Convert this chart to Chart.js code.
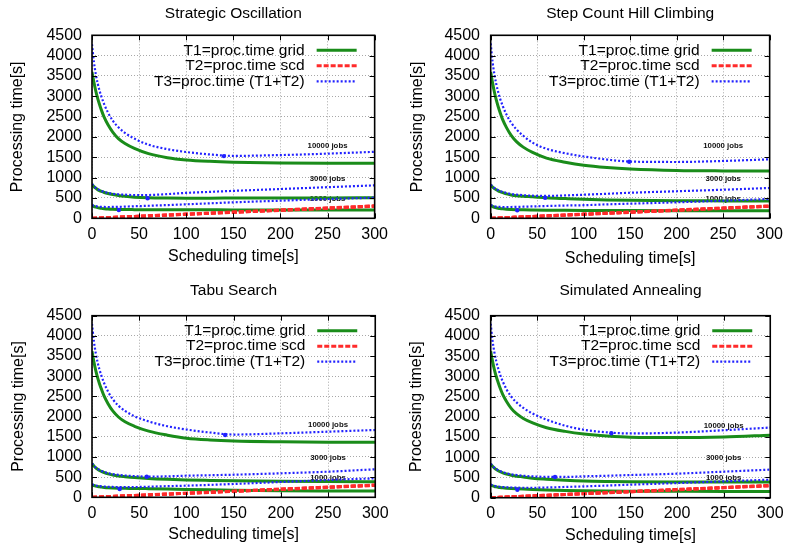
<!DOCTYPE html>
<html>
<head>
<meta charset="utf-8">
<script src="https://cdn.jsdelivr.net/npm/chart.js@4.4.0/dist/chart.umd.min.js"></script>
<style>
  html, body { margin: 0; padding: 0; background: #fff; }
  #wrap { position: relative; width: 790px; height: 551px; overflow: hidden; }
  #wrap canvas { position: absolute; display: block; }
</style>
</head>
<body>
<div id="wrap">
  <canvas id="c-so" width="395" height="275" style="left:0;top:0"></canvas>
  <canvas id="c-schc" width="395" height="275" style="left:395px;top:0"></canvas>
  <canvas id="c-ts" width="395" height="276" style="left:0;top:275px"></canvas>
  <canvas id="c-sa" width="395" height="276" style="left:395px;top:275px"></canvas>
</div>
<script>
// scheduling time [s] sampled along the x axis
var SCHED_TIME = [0, 2, 4, 6, 8, 10, 13, 17, 22, 28, 35, 45, 60, 80, 100, 125, 150, 200, 250, 300];
var X_TICKS = [0, 50, 100, 150, 200, 250, 300];
var Y_TICKS = [0, 500, 1000, 1500, 2000, 2500, 3000, 3500, 4000, 4500];

var JOB_LABELS = ['10000 jobs', '3000 jobs', '1000 jobs'];
var JOB_LABEL_X = [250, 250, 250];
var JOB_LABEL_Y = [1785, 980, 480];

// T2 (scheduler time) is about the same for every algorithm
var T2_10000 = [0, 3, 5, 7, 9, 12, 15, 19, 24, 30, 37, 47, 62, 82, 103, 128, 153, 204, 254, 306];
var T2_3000  = [0, 2, 4, 6, 8, 10, 13, 17, 22, 28, 35, 45, 60, 80, 100, 125, 150, 200, 250, 300];
var T2_1000  = [0, 2, 3, 5, 7, 9, 12, 16, 21, 26, 33, 43, 57, 77, 97, 121, 146, 195, 245, 294];

// Strategic Oscillation
var SO_T1_10000 = [3600, 3350, 3130, 2950, 2800, 2660, 2480, 2300, 2120, 1960, 1840, 1720, 1590, 1490, 1435, 1400, 1380, 1360, 1353, 1352];
var SO_T3_10000 = [4280, 3850, 3550, 3320, 3140, 2990, 2800, 2600, 2400, 2240, 2100, 1960, 1810, 1700, 1630, 1570, 1535, 1555, 1590, 1635];
var SO_T1_3000  = [835, 780, 740, 705, 680, 660, 635, 610, 585, 560, 540, 520, 505, 498, 495, 495, 497, 500, 502, 505];
var SO_T3_3000  = [845, 790, 750, 720, 695, 675, 650, 625, 605, 590, 580, 570, 572, 595, 625, 650, 675, 720, 765, 810];
var SO_T1_1000  = [310, 290, 275, 262, 252, 244, 236, 228, 222, 218, 215, 213, 211, 210, 209, 208, 207, 206, 205, 204];
var SO_T3_1000  = [325, 310, 298, 290, 285, 282, 279, 278, 279, 282, 287, 295, 308, 325, 344, 368, 393, 433, 475, 507];
var SO_MIN_X = [140, 59, 28.5];
var SO_MIN_Y = [1530, 492, 204];

// Step Count Hill Climbing
var SCHC_T1_10000 = [3600, 3330, 3100, 2910, 2750, 2610, 2420, 2230, 2040, 1880, 1750, 1620, 1480, 1380, 1305, 1250, 1215, 1178, 1166, 1162];
var SCHC_T3_10000 = [4300, 3850, 3540, 3300, 3110, 2950, 2760, 2550, 2350, 2180, 2030, 1860, 1710, 1600, 1520, 1445, 1395, 1385, 1410, 1450];
var SCHC_T1_3000  = [820, 770, 730, 700, 675, 655, 630, 600, 575, 555, 542, 528, 505, 485, 467, 452, 442, 432, 428, 425];
var SCHC_T3_3000  = [830, 780, 745, 715, 690, 670, 648, 622, 600, 582, 568, 556, 550, 562, 580, 603, 628, 665, 703, 745];
var SCHC_T1_1000  = [310, 290, 272, 258, 248, 240, 232, 224, 218, 213, 209, 205, 200, 196, 193, 191, 190, 188, 187, 187];
var SCHC_T3_1000  = [325, 308, 295, 287, 282, 279, 277, 276, 278, 281, 285, 292, 302, 314, 322, 343, 360, 393, 432, 475];
var SCHC_MIN_X = [149, 58.5, 28.5];
var SCHC_MIN_Y = [1392, 506, 197];

// Tabu Search
var TS_T1_10000 = [3620, 3360, 3140, 2960, 2810, 2680, 2500, 2320, 2140, 1990, 1870, 1760, 1640, 1540, 1465, 1420, 1395, 1375, 1365, 1362];
var TS_T3_10000 = [4300, 3870, 3570, 3340, 3160, 3010, 2820, 2620, 2430, 2270, 2140, 2010, 1880, 1760, 1680, 1605, 1555, 1585, 1626, 1668];
var TS_T1_3000  = [830, 775, 730, 695, 665, 640, 610, 580, 553, 530, 512, 490, 466, 445, 430, 418, 408, 397, 391, 387];
var TS_T3_3000  = [840, 782, 738, 703, 675, 652, 625, 598, 574, 555, 540, 526, 512, 520, 535, 547, 560, 594, 635, 694];
var TS_T1_1000  = [310, 292, 278, 268, 259, 252, 244, 236, 230, 225, 222, 220, 214, 205, 195, 184, 175, 163, 158, 155];
var TS_T3_1000  = [325, 305, 292, 283, 277, 272, 266, 260, 256, 253, 252, 254, 262, 276, 288, 308, 330, 379, 429, 470];
var TS_MIN_X = [141, 58, 29.3];
var TS_MIN_Y = [1544, 511, 205];

// Simulated Annealing
var SA_T1_10000 = [3620, 3370, 3160, 2990, 2850, 2720, 2550, 2380, 2210, 2070, 1960, 1850, 1730, 1640, 1576, 1525, 1494, 1486, 1502, 1544];
var SA_T3_10000 = [4300, 3880, 3590, 3370, 3200, 3050, 2870, 2680, 2500, 2350, 2220, 2080, 1930, 1780, 1680, 1615, 1588, 1610, 1668, 1734];
var SA_T1_3000  = [830, 775, 730, 695, 667, 643, 615, 585, 557, 533, 513, 480, 455, 430, 412, 401, 395, 390, 388, 387];
var SA_T3_3000  = [840, 785, 742, 708, 680, 658, 630, 602, 578, 558, 542, 526, 515, 514, 528, 543, 560, 594, 644, 694];
var SA_T1_1000  = [310, 292, 278, 268, 259, 252, 244, 236, 228, 221, 214, 205, 193, 180, 172, 165, 160, 157, 156, 156];
var SA_T3_1000  = [325, 305, 292, 282, 275, 270, 264, 258, 252, 248, 246, 246, 252, 266, 280, 300, 322, 362, 404, 446];
var SA_MIN_X = [129.5, 69, 28.6];
var SA_MIN_Y = [1593, 511, 198];

(function () {
  'use strict';

  var FONT = '"Liberation Sans", Arial, Helvetica, sans-serif';
  var GREEN = '#1a8c1a';
  var RED = '#ff2b2b';
  var BLUE = '#2222ff';
  var RED_DASH = [5, 2];
  var BLUE_DASH = [2, 2];

  var LEGEND = [
    { text: 'T1=proc.time grid', color: GREEN, width: 3, dash: [] },
    { text: 'T2=proc.time scd', color: RED, width: 3, dash: RED_DASH },
    { text: 'T3=proc.time (T1+T2)', color: BLUE, width: 2.2, dash: BLUE_DASH }
  ];
  var LEGEND_ROWS = [15, 30.5, 46];

  Chart.defaults.font.family = FONT;
  Chart.defaults.color = '#000';

  // gnuplot look: frame, inward mirrored ticks, key in the corner, job labels
  var gnuplotFrame = {
    id: 'gnuplotFrame',
    beforeDatasetsDraw: function (chart) {
      var ctx = chart.ctx, xs = chart.scales.x, ys = chart.scales.y;
      ctx.save();
      ctx.font = 'bold 7.8px ' + FONT;
      ctx.fillStyle = '#111';
      ctx.textAlign = 'center';
      ctx.textBaseline = 'middle';
      for (var i = 0; i < JOB_LABELS.length; i++) {
        ctx.fillText(JOB_LABELS[i], xs.getPixelForValue(JOB_LABEL_X[i]), ys.getPixelForValue(JOB_LABEL_Y[i]));
      }
      ctx.restore();
    },
    afterDraw: function (chart) {
      var ctx = chart.ctx, a = chart.chartArea;
      var xs = chart.scales.x, ys = chart.scales.y;
      var TL = 5;
      ctx.save();
      ctx.strokeStyle = '#000';
      ctx.lineWidth = 1;
      ctx.setLineDash([]);
      ctx.beginPath();
      X_TICKS.forEach(function (v) {
        var px = Math.round(xs.getPixelForValue(v)) + 0.5;
        ctx.moveTo(px, a.bottom); ctx.lineTo(px, a.bottom - TL);
        ctx.moveTo(px, a.top); ctx.lineTo(px, a.top + TL);
      });
      Y_TICKS.forEach(function (v) {
        var py = Math.round(ys.getPixelForValue(v)) + 0.5;
        ctx.moveTo(a.left, py); ctx.lineTo(a.left + TL, py);
        ctx.moveTo(a.right, py); ctx.lineTo(a.right - TL, py);
      });
      ctx.stroke();
      ctx.lineWidth = 1.6;
      ctx.strokeRect(a.left, a.top, a.right - a.left, a.bottom - a.top);

      // key
      ctx.font = '15.5px ' + FONT;
      ctx.fillStyle = '#000';
      ctx.textAlign = 'right';
      ctx.textBaseline = 'middle';
      LEGEND.forEach(function (item, i) {
        var yy = a.top + LEGEND_ROWS[i];
        ctx.fillText(item.text, a.right - 70, yy);
        ctx.beginPath();
        ctx.strokeStyle = item.color;
        ctx.lineWidth = item.width;
        ctx.setLineDash(item.dash);
        ctx.moveTo(a.right - 58, yy);
        ctx.lineTo(a.right - 18, yy);
        ctx.stroke();
      });
      ctx.restore();
    }
  };

  function seriesPoints(values) {
    return SCHED_TIME.map(function (t, i) { return { x: t, y: values[i] }; });
  }

  function buildDatasets(t1, t3, minX, minY) {
    var t2 = [T2_10000, T2_3000, T2_1000];
    var sets = [];
    for (var k = 0; k < 3; k++) {
      sets.push({ data: seriesPoints(t1[k]), borderColor: GREEN, borderWidth: 3, order: 3 });
      sets.push({ data: seriesPoints(t2[k]), borderColor: RED, borderWidth: 3, borderDash: RED_DASH, order: 2 });
      sets.push({ data: seriesPoints(t3[k]), borderColor: BLUE, borderWidth: 2.2, borderDash: BLUE_DASH, order: 1 });
    }
    sets.push({
      data: minX.map(function (x, i) { return { x: x, y: minY[i] }; }),
      showLine: false, pointRadius: 2.2, pointBackgroundColor: BLUE, pointBorderWidth: 0, order: 0
    });
    return sets;
  }

  var PANELS = [
    { id: 'c-so', title: 'Strategic Oscillation',
      t1: [SO_T1_10000, SO_T1_3000, SO_T1_1000], t3: [SO_T3_10000, SO_T3_3000, SO_T3_1000],
      minX: SO_MIN_X, minY: SO_MIN_Y,
      padRight: 19, yWidth: 92, xHeight: 56.7, titleTop: 4.2, titleBottom: 12.5,
      yTitlePad: 8.4, yTickPad: 10, xTickPad: 7, xTitlePad: 8.4 },
    { id: 'c-schc', title: 'Step Count Hill Climbing',
      t1: [SCHC_T1_10000, SCHC_T1_3000, SCHC_T1_1000], t3: [SCHC_T3_10000, SCHC_T3_3000, SCHC_T3_1000],
      minX: SCHC_MIN_X, minY: SCHC_MIN_Y,
      padRight: 16, yWidth: 95.7, xHeight: 56.7, titleTop: 4.7, titleBottom: 12,
      yTitlePad: 13, yTickPad: 10.7, xTickPad: 7, xTitlePad: 7.1 },
    { id: 'c-ts', title: 'Tabu Search',
      t1: [TS_T1_10000, TS_T1_3000, TS_T1_1000], t3: [TS_T3_10000, TS_T3_3000, TS_T3_1000],
      minX: TS_MIN_X, minY: TS_MIN_Y,
      padRight: 19, yWidth: 92, xHeight: 53.7, titleTop: 6.7, titleBottom: 15.4,
      yTitlePad: 8.7, yTickPad: 10, xTickPad: 6.4, xTitlePad: 6.4 },
    { id: 'c-sa', title: 'Simulated Annealing',
      t1: [SA_T1_10000, SA_T1_3000, SA_T1_1000], t3: [SA_T3_10000, SA_T3_3000, SA_T3_1000],
      minX: SA_MIN_X, minY: SA_MIN_Y,
      padRight: 16, yWidth: 95.7, xHeight: 53.3, titleTop: 6.7, titleBottom: 15.4,
      yTitlePad: 12.1, yTickPad: 10.7, xTickPad: 6.4, xTitlePad: 5.7 }
  ];

  function plainNumber(v) { return String(v); }

  PANELS.forEach(function (p) {
    new Chart(document.getElementById(p.id), {
      type: 'line',
      data: { datasets: buildDatasets(p.t1, p.t3, p.minX, p.minY) },
      options: {
        responsive: false,
        animation: false,
        events: [],
        layout: { padding: { left: 0, right: p.padRight, top: 0, bottom: 0 } },
        elements: {
          point: { radius: 0 },
          line: { cubicInterpolationMode: 'monotone', fill: false, borderCapStyle: 'butt' }
        },
        plugins: {
          legend: { display: false },
          tooltip: { enabled: false },
          title: {
            display: true, text: p.title, fullSize: false, color: '#000',
            font: { size: 15.5, weight: 'normal' },
            padding: { top: p.titleTop, bottom: p.titleBottom }
          }
        },
        scales: {
          x: {
            type: 'linear', min: 0, max: 300,
            afterFit: function (s) { s.height = p.xHeight; },
            afterBuildTicks: function (s) { s.ticks = X_TICKS.map(function (v) { return { value: v }; }); },
            grid: { color: '#a8a8a8', lineWidth: 1, drawTicks: false },
            border: { display: false, dash: [1, 2] },
            ticks: { autoSkip: false, maxRotation: 0, padding: p.xTickPad, font: { size: 16 }, color: '#000', callback: plainNumber },
            title: { display: true, text: 'Scheduling time[s]', font: { size: 16 }, color: '#000',
              padding: { top: 0, bottom: p.xTitlePad } }
          },
          y: {
            min: 0, max: 4500,
            afterFit: function (s) { s.width = p.yWidth; },
            afterBuildTicks: function (s) { s.ticks = Y_TICKS.map(function (v) { return { value: v }; }); },
            grid: { color: '#a8a8a8', lineWidth: 1, drawTicks: false },
            border: { display: false, dash: [1, 2] },
            ticks: { autoSkip: false, padding: p.yTickPad, font: { size: 16 }, color: '#000', callback: plainNumber },
            title: { display: true, text: 'Processing time[s]', font: { size: 16 }, color: '#000',
              padding: { top: p.yTitlePad, bottom: 0 } }
          }
        }
      },
      plugins: [gnuplotFrame]
    });
  });
})();
</script>
</body>
</html>
